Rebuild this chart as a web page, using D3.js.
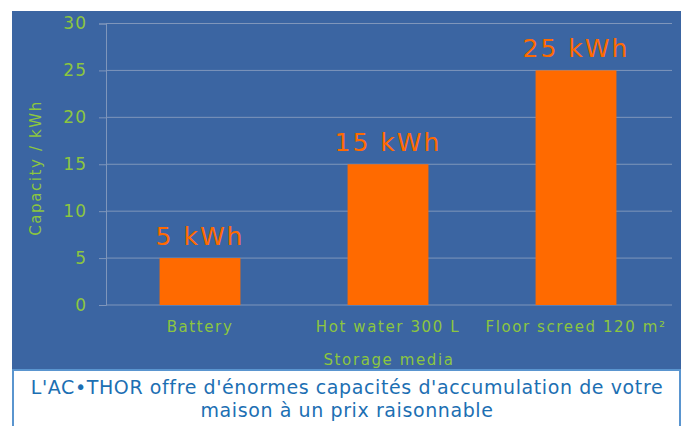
<!DOCTYPE html>
<html><head><meta charset="utf-8">
<script src="https://cdn.jsdelivr.net/npm/d3@7"></script>
<style>body{margin:0;background:#fff;}svg{display:block;}</style>
</head><body>
<svg id="c" width="683" height="426"></svg>
<script>
const categories = ["Battery", "Hot water 300 L", "Floor screed 120 m²"];
const values = [5, 15, 25];
const valueLabels = ["5 kWh", "15 kWh", "25 kWh"];
const yTicks = [0, 5, 10, 15, 20, 25, 30];
const yTitle = "Capacity / kWh";
const xTitle = "Storage media";
const caption = ["L'AC•THOR offre d'énormes capacités d'accumulation de votre", "maison à un prix raisonnable"];

const svg = d3.select("#c");
const font = "'DejaVu Sans', sans-serif";
const green = "#8cc63f", orange = "#ff6a00", blue = "#3b65a2";

svg.append("rect").attr("x",12).attr("y",11).attr("width",669).attr("height",359).attr("fill",blue);
svg.append("rect").attr("x",13).attr("y",370).attr("width",667).attr("height",60)
  .attr("fill","#fff").attr("stroke","#5a95cf").attr("stroke-width",2);

const x = d3.scaleBand().domain(categories).range([106,670]).paddingInner(0.57).paddingOuter(0.285);
const y = d3.scaleLinear().domain([0,30]).range([305,23.5]);

const gy = svg.append("g").attr("transform","translate(106,0)")
  .call(d3.axisLeft(y).tickValues(yTicks).tickSize(7).tickPadding(12));
gy.select(".domain").attr("stroke","#7f96bb");
gy.selectAll(".tick line").attr("stroke","#7f96bb");
gy.selectAll(".tick text").attr("fill",green).attr("font-family",font).attr("font-size",17).attr("letter-spacing",1);

svg.append("g").selectAll("line").data(yTicks).join("line")
  .attr("x1",106).attr("x2",672).attr("y1",d=>y(d)).attr("y2",d=>y(d))
  .attr("stroke","#7f96bb").attr("stroke-width",1);

svg.append("g").selectAll("rect").data(values).join("rect")
  .attr("x",(d,i)=>x(categories[i])).attr("width",x.bandwidth())
  .attr("y",d=>y(d)).attr("height",d=>y(0)-y(d)).attr("fill",orange);

svg.append("g").selectAll("text").data(values).join("text")
  .attr("x",(d,i)=>x(categories[i])+x.bandwidth()/2).attr("y",d=>y(d)-13)
  .attr("text-anchor","middle").attr("fill",orange).attr("font-family",font).attr("font-size",25)
  .attr("letter-spacing",2).text((d,i)=>valueLabels[i]);

const gx = svg.append("g").attr("transform","translate(0,305)")
  .call(d3.axisBottom(x).tickSize(0).tickPadding(16));
gx.select(".domain").remove();
gx.selectAll(".tick text").attr("fill",green).attr("font-family",font).attr("font-size",15).attr("letter-spacing",1.6);

svg.append("text").attr("transform","translate(41,168) rotate(-90)").attr("text-anchor","middle")
  .attr("fill",green).attr("font-family",font).attr("font-size",15).attr("letter-spacing",1.6).text(yTitle);
svg.append("text").attr("x",389).attr("y",365).attr("text-anchor","middle")
  .attr("fill",green).attr("font-family",font).attr("font-size",15).attr("letter-spacing",1.6).text(xTitle);

svg.append("g").selectAll("text").data(caption).join("text")
  .attr("x",347).attr("y",(d,i)=>394+i*23).attr("text-anchor","middle")
  .attr("fill","#1c6fb3").attr("font-family",font).attr("font-size",19).attr("letter-spacing",0.6).text(d=>d);
</script>
</body></html>
